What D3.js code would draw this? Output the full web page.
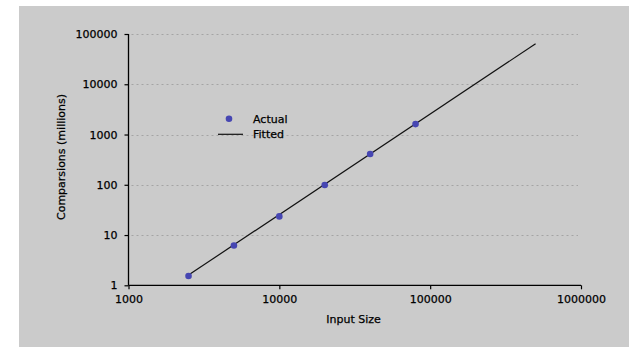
<!DOCTYPE html>
<html>
<head>
<meta charset="utf-8">
<script src="https://cdn.jsdelivr.net/npm/d3@7"></script>
<style>
  html, body { margin: 0; padding: 0; background: #ffffff; }
  svg { display: block; }
  text { font-family: "DejaVu Sans", sans-serif; fill: #000; stroke: #000; stroke-width: 0.25px; }
</style>
</head>
<body>
<svg id="chart" width="629" height="347"></svg>
<script>
// ---- data ----
const inputSizes = [2500, 5000, 10000, 20000, 40000, 80000];
const actualComparisons = [1.53, 6.2, 23.5, 99, 410, 1610];
const fittedX = [2500, 500000];
const fittedY = [1.6, 64000];
const xTicks = [1000, 10000, 100000, 1000000];
const yTicks = [1, 10, 100, 1000, 10000, 100000];
const xTitle = "Input Size";
const yTitle = "Comparsions (millions)";
const legendLabels = ["Actual", "Fitted"];

(function () {
  const svg = d3.select("#chart");
  const W = 629, H = 347;
  const pLeft = 128.5, pRight = 581, pTop = 34, pBottom = 285.3;

  svg.append("rect").attr("x", 19).attr("y", 6).attr("width", W - 19).attr("height", H - 6)
    .attr("fill", "#cbcbcb");

  const x = d3.scaleLog().domain([1000, 1000000]).range([pLeft, pRight]);
  const y = d3.scaleLog().domain([1, 100000]).range([pBottom, pTop]);

  // gridlines
  svg.append("g").selectAll("line")
    .data(yTicks.filter(d => d > 1))
    .join("line")
    .attr("x1", pLeft + 3).attr("x2", pRight - 3)
    .attr("y1", d => Math.round(y(d)) + 0.5).attr("y2", d => Math.round(y(d)) + 0.5)
    .attr("stroke", "#a4a4a4").attr("stroke-width", 1)
    .attr("stroke-dasharray", "2,3");

  // axes
  const fmt = d3.format("d");
  const yAxis = svg.append("g")
    .attr("transform", `translate(${pLeft},0)`)
    .call(d3.axisLeft(y).tickValues(yTicks).tickFormat(fmt).tickSize(4).tickPadding(7));
  const xAxis = svg.append("g")
    .attr("transform", `translate(0,${pBottom})`)
    .call(d3.axisBottom(x).tickValues(xTicks).tickFormat(fmt).tickSize(4).tickPadding(6));

  [yAxis, xAxis].forEach(g => {
    g.select(".domain").remove();
    g.selectAll(".tick line").attr("stroke", "#000").attr("stroke-width", 1.2);
    g.selectAll("text").attr("font-size", 11).attr("font-family", "DejaVu Sans, sans-serif").attr("fill", "#000");
  });
  svg.append("line").attr("x1", pLeft).attr("x2", pLeft).attr("y1", pTop).attr("y2", pBottom)
    .attr("stroke", "#000").attr("stroke-width", 1.3);
  svg.append("line").attr("x1", pLeft).attr("x2", pRight).attr("y1", pBottom).attr("y2", pBottom)
    .attr("stroke", "#000").attr("stroke-width", 1.3);

  // fitted line
  const line = d3.line().x(d => x(d[0])).y(d => y(d[1]));
  svg.append("path")
    .datum(fittedX.map((v, i) => [v, fittedY[i]]))
    .attr("d", line)
    .attr("fill", "none").attr("stroke", "#111").attr("stroke-width", 1.2);

  // actual points
  svg.append("g").selectAll("circle")
    .data(inputSizes.map((v, i) => [v, actualComparisons[i]]))
    .join("circle")
    .attr("cx", d => x(d[0])).attr("cy", d => y(d[1]))
    .attr("r", 3.3).attr("fill", "#4646b2");

  // axis titles
  svg.append("text").attr("x", 353.5).attr("y", 323)
    .attr("text-anchor", "middle").attr("font-size", 11).text(xTitle);
  svg.append("text")
    .attr("transform", "translate(65,157) rotate(-90)")
    .attr("text-anchor", "middle").attr("font-size", 11).text(yTitle);

  // legend
  const lg = svg.append("g");
  lg.append("circle").attr("cx", 229).attr("cy", 118.7).attr("r", 3.3).attr("fill", "#4646b2");
  lg.append("text").attr("x", 253).attr("y", 118.7).attr("dy", "0.36em")
    .attr("font-size", 11).text(legendLabels[0]);
  lg.append("line").attr("x1", 218).attr("x2", 243).attr("y1", 134.3).attr("y2", 134.3)
    .attr("stroke", "#111").attr("stroke-width", 1.2);
  lg.append("text").attr("x", 253).attr("y", 134.3).attr("dy", "0.36em")
    .attr("font-size", 11).text(legendLabels[1]);
})();
</script>
</body>
</html>
